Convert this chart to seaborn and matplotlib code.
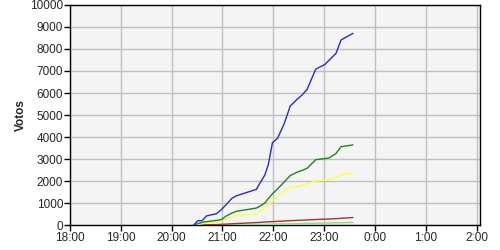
import matplotlib
matplotlib.use("Agg")
import matplotlib.pyplot as plt
from matplotlib.ticker import MultipleLocator
import seaborn as sns
import pandas as pd
import datetime as dt

times = ["20:26", "20:31", "20:36", "20:41", "20:53", "20:59", "21:04", "21:11", "21:16",
         "21:40", "21:44", "21:50", "21:54", "21:59", "22:05", "22:13", "22:20", "22:28",
         "22:34", "22:40", "22:50", "23:01", "23:06", "23:14", "23:20", "23:34"]
blue = [0, 195, 195, 410, 515, 710, 910, 1210, 1320, 1620, 1890, 2270, 2730, 3740, 3940,
        4620, 5410, 5710, 5910, 6170, 7080, 7300, 7500, 7800, 8410, 8710]
green = [0, 60, 120, 150, 210, 250, 400, 540, 620, 770, 850, 1000, 1200, 1420, 1640, 1960,
         2250, 2400, 2480, 2580, 2970, 3020, 3050, 3250, 3560, 3640]
yellow = [0, 30, 60, 90, 140, 200, 270, 370, 420, 510, 600, 770, 920, 1100, 1280, 1530,
          1720, 1760, 1800, 1880, 2000, 2040, 2070, 2170, 2270, 2350]
red = [0, 0, 5, 10, 20, 30, 40, 55, 65, 110, 120, 135, 145, 155, 165, 180, 195, 210, 220,
       230, 250, 265, 275, 290, 305, 340]
lightgreen = [0, 0, 0, 0, 3, 5, 8, 12, 15, 25, 28, 32, 35, 40, 45, 50, 55, 62, 67, 72, 80,
              88, 92, 98, 103, 115]
series_names = ["A", "B", "C", "D", "E"]
series_colors = ["#2a2ad0", "#238023", "#ffff45", "#a03535", "#86e086"]
hour_ticks = [18, 19, 20, 21, 22, 23, 0, 1, 2]

base = dt.datetime(2000, 1, 1)

def to_dt(s):
    h, m = map(int, s.split(":"))
    return base + dt.timedelta(hours=h, minutes=m)

rows = []
for name, vals in zip(series_names, [blue, green, yellow, red, lightgreen]):
    for t, v in zip(times, vals):
        rows.append({"time": to_dt(t), "votos": v, "serie": name})
df = pd.DataFrame(rows)

sns.set_theme(style="white")
plt.rcParams["font.family"] = ["Liberation Sans", "DejaVu Sans"]

fig = plt.figure(figsize=(5, 2.5), dpi=100)
ax = fig.add_axes([0.14, 0.10, 0.82, 0.88])
ax.set_facecolor("#f4f4f4")

order = ["E", "D", "C", "B", "A"]
for name in order:
    sub = df[df["serie"] == name]
    sns.lineplot(data=sub, x="time", y="votos", ax=ax,
                 color=series_colors[series_names.index(name)], linewidth=1.0,
                 legend=False, zorder=3)

start = base + dt.timedelta(hours=18)
end = base + dt.timedelta(hours=26, minutes=4)
ax.set_xlim(start, end)
ax.set_ylim(0, 10000)
ticks = [base + dt.timedelta(hours=18 + i) for i in range(len(hour_ticks))]
ax.set_xticks(ticks)
ax.set_xticklabels([f"{h}:00" for h in hour_ticks])
ax.yaxis.set_major_locator(MultipleLocator(1000))
ax.grid(True, color="#c0c0c0", linewidth=1.0, zorder=0)
ax.set_axisbelow(True)
for sp in ax.spines.values():
    sp.set_color("black")
    sp.set_linewidth(1.0)
ax.tick_params(axis="both", which="both", direction="out", length=4, width=1,
               color="black", labelsize=8.5, pad=1, left=True, bottom=True)
ax.set_xlabel("")
ax.set_ylabel("Votos", fontsize=8.5, fontweight="bold", labelpad=2)

fig.savefig("out.png", dpi=100)
